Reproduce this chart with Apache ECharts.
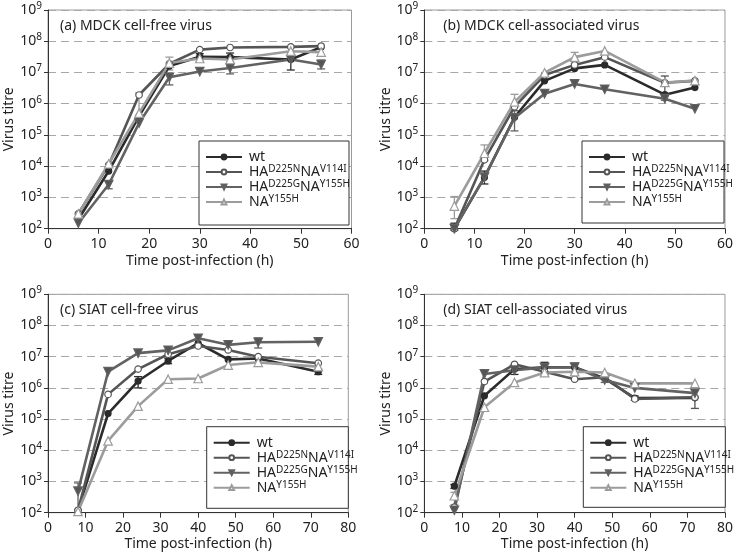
<!DOCTYPE html>
<html><head><meta charset="utf-8">
<script src="https://cdn.jsdelivr.net/npm/echarts@6/dist/echarts.min.js"></script>
<style>html,body{margin:0;padding:0;background:#fff}#c{width:736px;height:555px}</style>
</head><body><div id="c"></div>
<script>
// ---- data ----
const seriesKeys = ['wt', 'D225N', 'D225G', 'Y155H'];
const legendLabels = {
  'wt': '{b|wt}',
  'D225N': '{b|HA}{s|D225N}{b|NA}{s|V114I}',
  'D225G': '{b|HA}{s|D225G}{b|NA}{s|Y155H}',
  'Y155H': '{b|NA}{s|Y155H}'
};
const panelTitles = ['(a) MDCK cell-free virus', '(b) MDCK cell-associated virus', '(c) SIAT cell-free virus', '(d) SIAT cell-associated virus'];
const xMDCK = [6, 12, 18, 24, 30, 36, 48, 54];
const xSIAT = [8, 16, 24, 32, 40, 48, 56, 72];

const a_wt = [200, 7000, 4e5, 1.6e7, 3.2e7, 3.1e7, 2.6e7, 6.5e7];
const a_n  = [300, 1.1e4, 1.9e6, 1.9e7, 5.4e7, 6.3e7, 6.6e7, 7e7];
const a_g  = [150, 2600, 2.4e5, 7e6, 1.07e7, 1.4e7, 2.6e7, 1.8e7];
const a_na = [300, 1.2e4, 5e5, 2e7, 2.8e7, 2.6e7, 4.8e7, 4.5e7];

const b_wt = [100, 4400, 3.7e5, 5.4e6, 1.35e7, 1.75e7, 1.95e6, 3.3e6];
const b_n  = [100, 1.6e4, 8e5, 8.3e6, 1.75e7, 3.1e7, 4.7e6, 5.4e6];
const b_g  = [100, 4500, 3.5e5, 2.1e6, 4.3e6, 2.9e6, 1.45e6, 6.9e5];
const b_na = [530, 2.6e4, 1.15e6, 9.8e6, 3.1e7, 4.9e7, 4.8e6, 5.5e6];

const c_wt = [120, 1.5e5, 1.66e6, 7.3e6, 2.7e7, 8.2e6, 8.8e6, 3.3e6];
const c_n  = [120, 6.2e5, 4e6, 1.2e7, 2.2e7, 1.65e7, 1e7, 6.2e6];
const c_g  = [490, 3.3e6, 1.3e7, 1.6e7, 3.9e7, 2.4e7, 2.9e7, 3e7];
const c_na = [110, 2e4, 2.6e5, 1.9e6, 2e6, 5.4e6, 6.6e6, 4.8e6];

const d_wt = [710, 5.6e5, 4e6, 4.6e6, 4.6e6, 2e6, 4.7e5, 4.8e5];
const d_n  = [150, 1.6e6, 5.7e6, 3.3e6, 1.9e6, 2.2e6, 4.4e5, 5e5];
const d_g  = [120, 2.8e6, 3.7e6, 4.5e6, 4.6e6, 1.8e6, 1e6, 6.8e5];
const d_na = [350, 2.4e5, 1.5e6, 3.1e6, 3.3e6, 3.1e6, 1.4e6, 1.4e6];

// error bars: [seriesIndex, x, low, high]
const errA = [[2,12,1900,3300],[3,18,3e5,2.2e6],[3,24,1.2e7,3.1e7],[2,24,4e6,9e6],[0,30,2.6e7,4e7],[0,36,2.2e7,4.2e7],[2,36,9e6,1.6e7],[0,48,1.2e7,3.2e7],[2,54,1.3e7,2.5e7]];
const errB = [[3,6,210,1070],[0,6,90,150],[3,12,1.5e4,4.8e4],[0,12,2700,7000],[3,18,6e5,2e6],[2,18,1.35e5,6e5],[3,30,2e7,4.4e7],[1,48,1.3e6,7.7e6]];
const errC = [[2,8,120,900],[0,24,1e6,2.3e6],[0,32,6e6,9e6],[2,56,1.9e7,4e7],[0,72,2.7e6,4e6]];
const errD = [[0,8,600,800],[3,8,180,450],[0,24,2.7e6,5.5e6],[0,32,2.6e6,6.6e6],[2,40,3e6,6.3e6],[2,48,1.5e6,2.2e6],[0,56,4e5,5.5e5],[1,72,2.2e5,5e5]];

// ---- layout/style ----
const FONT = 'Noto Sans';
const colors = ['#2b2b2b', '#555555', '#626262', '#9c9c9c'];
const symbols = [
  {symbol: 'circle', symbolSize: 6, fill: '#2b2b2b', rot: 0},
  {symbol: 'circle', symbolSize: 6.5, fill: '#ffffff', rot: 0},
  {symbol: 'triangle', symbolSize: 8.5, fill: '#555555', rot: 180},
  {symbol: 'triangle', symbolSize: 8.5, fill: '#ffffff', rot: 0}
];
const panels = [
  {x: xMDCK, data: [a_wt, a_n, a_g, a_na], err: errA, xmax: 60,
   grid: {left: 48, top: 10, width: 303.5, height: 218.7}, box: [199, 141, 150, 84]},
  {x: xMDCK, data: [b_wt, b_n, b_g, b_na], err: errB, xmax: 60,
   grid: {left: 424.3, top: 10, width: 303.4, height: 218.7}, box: [582, 141, 142, 82]},
  {x: xSIAT, data: [c_wt, c_n, c_g, c_na], err: errC, xmax: 80,
   grid: {left: 48, top: 294.3, width: 300.3, height: 218.4}, box: [206.7, 426.7, 141.6, 81.6]},
  {x: xSIAT, data: [d_wt, d_n, d_g, d_na], err: errD, xmax: 80,
   grid: {left: 424.3, top: 294.3, width: 301.7, height: 218.4}, box: [583.3, 426.7, 142, 80.6]}
];

const supRich = {
  b: {fontFamily: FONT, fontSize: 14, color: '#222', lineHeight: 18},
  s: {fontFamily: FONT, fontSize: 10, color: '#222', lineHeight: 9, verticalAlign: 'top'}
};

const grids = [], xAxes = [], yAxes = [], series = [], legends = [], titles = [], graphics = [];
panels.forEach((p, i) => {
  grids.push(Object.assign({show: true, borderColor: '#9a9a9a', borderWidth: 1, backgroundColor: 'transparent'}, p.grid));
  xAxes.push({
    type: 'value', gridIndex: i, min: 0, max: p.xmax, interval: 10,
    name: 'Time post-infection (h)', nameLocation: 'middle', nameGap: i < 2 ? 25 : 24,
    nameTextStyle: {fontFamily: FONT, fontSize: 14, color: '#222'},
    axisLine: {lineStyle: {color: '#333', width: 1}},
    axisTick: {length: 5, lineStyle: {color: '#333'}},
    axisLabel: {fontFamily: FONT, fontSize: 14, color: '#222', margin: 8},
    splitLine: {show: false}
  });
  yAxes.push({
    type: 'log', logBase: 10, gridIndex: i, min: 100, max: 1e9,
    name: 'Virus titre', nameLocation: 'middle', nameGap: 27, nameRotate: 90,
    nameTextStyle: {fontFamily: FONT, fontSize: 14, color: '#222'},
    axisLine: {show: true, lineStyle: {color: '#333', width: 1}},
    axisTick: {show: true, length: 4, lineStyle: {color: '#333'}},
    axisLabel: {
      margin: 6,
      formatter: v => '{b|10}{s|' + Math.round(Math.log10(v)) + '}',
      rich: supRich
    },
    splitLine: {show: true, lineStyle: {color: '#a8a8a8', type: [8, 5], width: 1}}
  });
  titles.push({
    text: panelTitles[i], left: p.grid.left + (i % 2 === 0 ? 7 : 14), top: p.grid.top + 4,
    textStyle: {fontFamily: FONT, fontSize: 14, fontWeight: 'normal', color: '#222'}
  });
  graphics.push({
    type: 'rect', shape: {x: p.box[0], y: p.box[1], width: p.box[2], height: p.box[3]},
    style: {fill: '#fff', stroke: '#333', lineWidth: 1}, z: 5
  });
  legends.push({
    data: seriesKeys, orient: 'vertical', left: p.box[0] + 6, top: p.box[1] + 9,
    itemWidth: 36, itemHeight: 6, itemGap: 0, padding: 0, z: 10,
    formatter: n => legendLabels[n],
    textStyle: {rich: {
      b: {fontFamily: FONT, fontSize: 14, color: '#222', lineHeight: 16},
      s: {fontFamily: FONT, fontSize: 10, color: '#222', lineHeight: 10, verticalAlign: 'top'}
    }, padding: [0, 0, 0, 2]},
    selectedMode: false
  });
  // error bars
  series.push({
    type: 'custom', name: 'err' + i, xAxisIndex: i, yAxisIndex: i, z: 3,
    data: p.err, encode: {x: 1, y: [2, 3]},
    renderItem: (params, api) => {
      const si = api.value(0);
      const lo = api.coord([api.value(1), api.value(2)]);
      const hi = api.coord([api.value(1), api.value(3)]);
      const w = 4;
      const st = {stroke: colors[si], lineWidth: 1.3};
      return {type: 'group', children: [
        {type: 'line', shape: {x1: lo[0], y1: lo[1], x2: hi[0], y2: hi[1]}, style: st},
        {type: 'line', shape: {x1: lo[0] - w, y1: lo[1], x2: lo[0] + w, y2: lo[1]}, style: st},
        {type: 'line', shape: {x1: hi[0] - w, y1: hi[1], x2: hi[0] + w, y2: hi[1]}, style: st}
      ]};
    }
  });
  p.data.forEach((arr, k) => {
    series.push({
      type: 'line', name: seriesKeys[k], xAxisIndex: i, yAxisIndex: i, z: 4,
      data: p.x.map((x, j) => [x, arr[j]]),
      symbol: symbols[k].symbol, symbolSize: symbols[k].symbolSize, symbolRotate: symbols[k].rot,
      showAllSymbol: true,
      lineStyle: {color: colors[k], width: 2.6},
      itemStyle: {color: symbols[k].fill, borderColor: colors[k], borderWidth: 1.2},
      animation: false
    });
  });
});

const chart = echarts.init(document.getElementById('c'), null, {renderer: 'canvas'});
chart.setOption({
  animation: false,
  color: colors,
  title: titles,
  grid: grids, xAxis: xAxes, yAxis: yAxes,
  legend: legends,
  graphic: graphics,
  series: series
});
</script></body></html>
